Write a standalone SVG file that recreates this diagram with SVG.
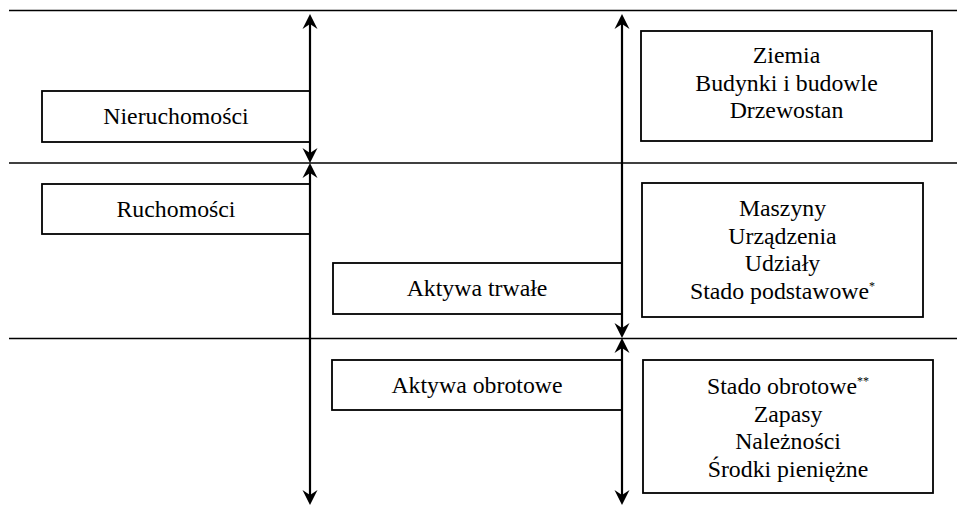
<svg xmlns="http://www.w3.org/2000/svg" width="957" height="506" viewBox="0 0 957 506" font-family="Liberation Serif, serif">
<style>
.box{fill:#fff;stroke:#000;stroke-width:1.8}
.sep{stroke:#000;stroke-width:1.6;fill:none}
.arr{stroke:#000;stroke-width:2.2;fill:none;marker-start:url(#ah);marker-end:url(#ah)}
.t{font-size:23.8px;fill:#000;text-anchor:middle}
.sup{font-size:12px}
</style>
<defs>
<marker id="ah" markerUnits="userSpaceOnUse" markerWidth="20" markerHeight="20" viewBox="-16 -8 20 16" refX="-4" refY="0" orient="auto-start-reverse">
<path d="M0,0 L-15,-7.5 L-10,0 L-15,7.5 Z" fill="#000"/>
</marker>
</defs>
<g id="separators">
<line class="sep" x1="9" y1="10.5" x2="957" y2="10.5"/>
<line class="sep" x1="9" y1="163" x2="957" y2="163"/>
<line class="sep" x1="9" y1="338.5" x2="957" y2="338.5"/>
</g>
<g id="n-nieruchomosci"><rect class="box" x="42" y="91" width="268" height="51"/><text class="t" x="176" y="124">Nieruchomości</text></g>
<g id="n-ruchomosci"><rect class="box" x="42" y="184" width="268" height="50"/><text class="t" x="176" y="217">Ruchomości</text></g>
<g id="n-aktywa-trwale"><rect class="box" x="333" y="263" width="289" height="51"/><text class="t" x="477" y="296">Aktywa trwałe</text></g>
<g id="n-aktywa-obrotowe"><rect class="box" x="332" y="360" width="290" height="50"/><text class="t" x="477" y="393">Aktywa obrotowe</text></g>
<g id="n-ziemia"><rect class="box" x="641" y="31" width="291" height="110"/>
<text class="t" x="786.5" y="63">Ziemia</text><text class="t" x="786.5" y="90.5">Budynki i budowle</text><text class="t" x="786.5" y="118">Drzewostan</text></g>
<g id="n-maszyny"><rect class="box" x="642" y="183" width="281" height="134"/>
<text class="t" x="782.5" y="216">Maszyny</text><text class="t" x="782.5" y="243.5">Urządzenia</text><text class="t" x="782.5" y="271">Udziały</text><text class="t" x="782.5" y="298.5">Stado podstawowe<tspan class="sup" dy="-9">*</tspan></text></g>
<g id="n-stado-obrotowe"><rect class="box" x="643" y="360" width="290" height="133"/>
<text class="t" x="788" y="394">Stado obrotowe<tspan class="sup" dy="-9">**</tspan></text><text class="t" x="788" y="421.5">Zapasy</text><text class="t" x="788" y="449">Należności</text><text class="t" x="788" y="476.5">Środki pieniężne</text></g>
<g id="connectors">
<line class="arr" x1="310" y1="18" x2="310" y2="159"/>
<line class="arr" x1="310" y1="167" x2="310" y2="501"/>
<line class="arr" x1="622" y1="18" x2="622" y2="334"/>
<line class="arr" x1="622" y1="342" x2="622" y2="501"/>
</g>
</svg>
